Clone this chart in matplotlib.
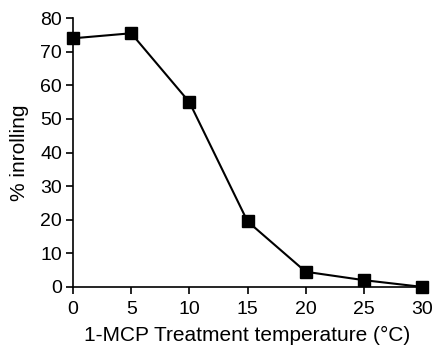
import matplotlib.pyplot as plt

plt.rcParams["font.family"] = ["Liberation Sans", "DejaVu Sans"]

temperature = [0, 5, 10, 15, 20, 25, 30]
inrolling = [74, 75.5, 55, 19.5, 4.5, 2, 0]

fig = plt.figure(figsize=(4.32, 3.49), dpi=100)
ax = fig.add_axes([0.169, 0.178, 0.808, 0.770])

ax.plot(temperature, inrolling, color="black", lw=1.5, marker="s",
        markersize=8, clip_on=False, zorder=3)

ax.set_xlim(0, 30)
ax.set_ylim(0, 80)
ax.set_xticks(range(0, 31, 5))
ax.set_yticks(range(0, 81, 10))
ax.spines["top"].set_visible(False)
ax.spines["right"].set_visible(False)
ax.spines["left"].set_linewidth(1.2)
ax.spines["bottom"].set_linewidth(1.2)
ax.tick_params(direction="out", length=5, width=1.2, labelsize=14, pad=3)
ax.tick_params(axis="x", pad=5)
ax.set_xlabel("1-MCP Treatment temperature (°C)", fontsize=15, labelpad=6)
ax.set_ylabel("% inrolling", fontsize=15, labelpad=8)

fig.savefig("out.png", dpi=100)
